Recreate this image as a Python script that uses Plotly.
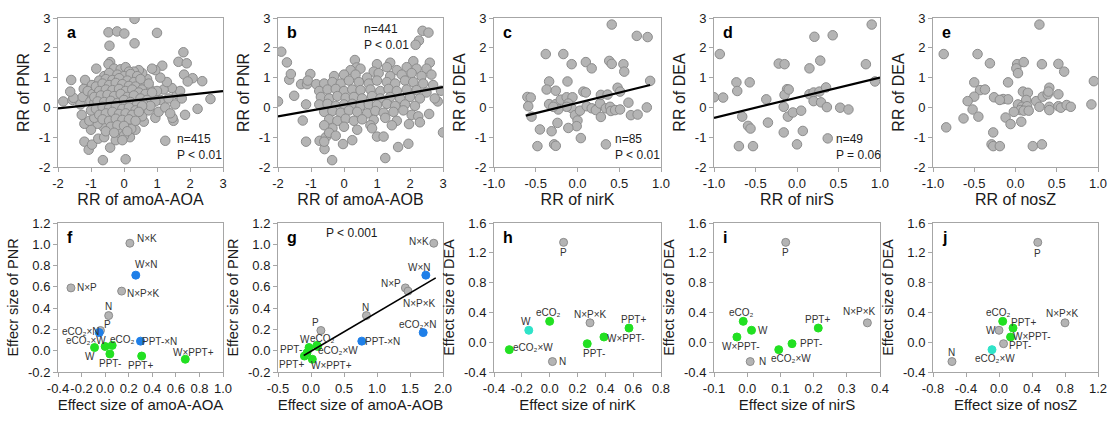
import plotly.graph_objects as go

# ---------------- DATA ----------------
# Panel a: RR of amoA-AOA vs RR of PNR
a_pts = [
    (0.32, 2.97), (-0.47, 2.52), (-0.21, 2.55), (0.01, 2.48), (1.0, 2.5), (-0.44, 2.07), (0.32, 2.15),
    (1.8, 1.85), (-0.42, 1.52), (-0.47, 1.45), (1.16, 1.4), (1.65, 1.53), (1.9, 1.48), (1.82, 1.1),
    (2.08, 0.98), (2.37, 0.88), (1.93, 0.87), (-1.6, 0.92), (-1.18, 0.92), (-0.84, 1.3), (-1.84, 0.2),
    (-1.56, 0.25), (-1.53, 0.32), (-1.63, 0.53), (-1.22, 0.62), (-0.97, 0.75), (2.62, 0.28), (2.23, -0.05),
    (1.85, -0.25), (1.5, -0.45), (1.47, -0.35), (1.25, -1.12), (-0.64, -1.77), (0.05, -1.74), (-1.2, -1.15),
    (-1.07, -1.42), (-0.97, -1.25), (-0.78, -1.05), (-0.6, -1.0), (-0.42, -1.35), (-0.25, -1.1),
    (-0.15, -0.85), (0.18, -1.0), (0.0, -0.95), (-0.05, -1.1), (0.35, -0.75), (0.22, -0.72), (0.6, -0.48),
    (-0.62, -0.65), (-0.8, -0.55), (-1.0, -0.75), (-1.2, -0.55), (-1.28, -0.25), (-1.05, -0.45),
    (-0.9, -0.35), (-1.32, 0.1), (-1.25, 0.35), (-1.1, 0.55), (-1.02, 0.2), (-0.9, 0.15), (-0.95, 0.45),
    (-1.0, -0.1), (0.55, -0.3), (0.75, -0.1), (0.95, -0.35), (1.05, -0.15), (1.1, 0.25), (1.25, 0.0),
    (1.35, 0.3), (1.4, -0.2), (1.55, 0.1), (1.6, 0.45), (1.7, 0.55), (1.75, 0.3), (1.45, 0.65), (1.2, 0.6),
    (1.3, 0.85), (1.1, 1.0), (0.95, 1.25), (0.85, 1.3), (0.7, 0.95), (0.55, 1.15), (0.45, 1.25), (0.3, 1.2),
    (0.25, 0.95), (0.6, 0.75), (0.8, 0.6), (0.9, 0.35), (1.0, 0.55),
    (-0.3, 1.3), (-0.1, 1.28), (0.05, 1.35), (0.15, 1.2),
    (-0.6, 1.05), (-0.45, 1.15), (-0.2, 1.1), (0.0, 1.05), (0.2, 1.12), (0.4, 1.05),
    (-0.75, 0.9), (-0.55, 0.95), (-0.35, 0.92), (-0.15, 0.98), (0.1, 0.9), (0.3, 0.85), (0.5, 0.95),
    (-0.85, 0.7), (-0.65, 0.8), (-0.45, 0.75), (-0.25, 0.82), (-0.05, 0.78), (0.15, 0.72), (0.35, 0.7),
    (0.55, 0.6), (0.75, 0.8),
    (-0.75, 0.55), (-0.55, 0.6), (-0.35, 0.58), (-0.15, 0.62), (0.05, 0.55), (0.25, 0.6), (0.45, 0.5),
    (0.65, 0.45), (0.85, 0.5),
    (-0.9, 0.35), (-0.7, 0.4), (-0.5, 0.42), (-0.3, 0.38), (-0.1, 0.45), (0.1, 0.35), (0.3, 0.4),
    (0.5, 0.3), (0.7, 0.25), (0.95, 0.2),
    (-0.8, 0.2), (-0.6, 0.18), (-0.4, 0.22), (-0.2, 0.15), (0.0, 0.25), (0.2, 0.18), (0.4, 0.12),
    (0.6, 0.1), (0.8, 0.05),
    (-0.85, -0.05), (-0.65, 0.02), (-0.45, -0.02), (-0.25, 0.05), (-0.05, -0.05), (0.15, 0.0),
    (0.35, -0.1), (0.55, 0.05),
    (-0.75, -0.25), (-0.55, -0.2), (-0.35, -0.15), (-0.15, -0.22), (0.05, -0.2), (0.25, -0.25),
    (0.45, -0.15),
    (-0.65, -0.4), (-0.45, -0.45), (-0.25, -0.38), (-0.05, -0.42), (0.15, -0.4), (0.35, -0.45),
    (-0.4, -0.65), (-0.2, -0.6), (0.0, -0.62), (-0.55, -0.8), (-0.3, -0.85), (0.1, -0.8),
]

# Panel b: RR of amoA-AOB vs RR of PNR
b_pts = [
    (2.38, 2.57), (2.56, 2.51), (2.27, 2.24), (2.17, 2.1), (-1.9, 1.87), (-1.73, 1.51), (-1.66, 0.93),
    (-1.61, 1.12), (-1.51, 0.39), (-2.0, 0.2), (-1.3, 0.78), (-1.12, 0.78), (-1.02, 1.12), (-1.1, 0.9),
    (-0.84, 0.78), (-1.15, 0.1), (-1.25, -0.44), (-1.15, -1.15), (-0.74, -1.12), (-0.59, -1.4),
    (-0.36, -1.77), (-0.03, -1.23), (0.25, -1.1), (1.0, -0.98), (1.2, -0.98), (1.25, -1.7), (1.64, -1.33),
    (1.95, -1.22), (3.0, -0.84), (1.97, -0.56), (2.58, -0.22), (2.84, 0.2), (2.94, 0.56), (0.33, 1.59),
    (0.38, 1.34), (2.1, 1.55), (2.6, 1.5), (1.4, 1.5), (1.0, 1.45), (2.75, 0.3),
    (0.2, 1.25), (0.5, 1.3), (0.9, 1.2), (1.3, 1.35), (1.6, 1.25), (1.9, 1.35), (2.2, 1.3), (2.5, 1.3),
    (-0.3, 1.05), (0.0, 1.1), (0.35, 1.1), (0.7, 1.0), (1.05, 1.15), (1.4, 1.05), (1.75, 1.1),
    (2.05, 1.15), (2.35, 1.05), (2.65, 1.1),
    (-0.6, 0.8), (-0.35, 0.85), (-0.1, 0.8), (0.15, 0.9), (0.45, 0.85), (0.75, 0.8), (1.0, 0.9),
    (1.3, 0.85), (1.55, 0.8), (1.85, 0.9), (2.1, 0.85), (2.4, 0.8), (2.7, 0.75),
    (-0.75, 0.55), (-0.5, 0.6), (-0.25, 0.62), (0.0, 0.55), (0.25, 0.6), (0.5, 0.58), (0.8, 0.6),
    (1.1, 0.55), (1.35, 0.62), (1.6, 0.55), (1.9, 0.6), (2.2, 0.58), (2.5, 0.5),
    (-0.7, 0.35), (-0.45, 0.3), (-0.2, 0.38), (0.05, 0.32), (0.3, 0.35), (0.55, 0.3), (0.85, 0.38),
    (1.1, 0.3), (1.4, 0.35), (1.7, 0.3), (2.0, 0.35), (2.3, 0.3),
    (-0.75, 0.1), (-0.5, 0.12), (-0.25, 0.05), (0.0, 0.1), (0.25, 0.12), (0.5, 0.05), (0.75, 0.1),
    (1.0, 0.08), (1.3, 0.12), (1.55, 0.05), (1.85, 0.1), (2.15, 0.05),
    (-0.6, -0.15), (-0.35, -0.12), (-0.1, -0.18), (0.15, -0.1), (0.4, -0.15), (0.7, -0.2), (0.95, -0.12),
    (1.2, -0.18), (1.5, -0.15), (1.8, -0.1), (2.05, -0.25),
    (-0.45, -0.4), (-0.2, -0.45), (0.05, -0.38), (0.3, -0.45), (0.55, -0.4), (0.9, -0.42), (1.25, -0.35),
    (1.6, -0.45), (2.25, -0.3),
    (-0.35, -0.7), (0.0, -0.65), (0.4, -0.75), (0.8, -0.6), (-0.6, -0.6),
    (-0.55, -1.0), (-0.45, -0.85), (-0.6, -1.15), (-0.25, -0.95), (0.85, -0.7), (1.45, -0.6), (2.3, -0.5),
]

# Panel c: RR of nirK vs RR of DEA
c_pts = [
    (0.87, 0.89), (0.41, 2.78), (0.71, 2.4), (0.84, 2.36), (-0.38, 1.79), (-0.17, 1.79), (-0.07, 1.45),
    (0.1, 1.52), (0.17, 1.31), (0.38, 1.56), (0.41, 1.46), (0.55, 1.45), (0.56, 1.2), (-0.34, 0.87),
    (-0.12, 0.87), (-0.37, 0.6), (-0.26, 0.56), (0.07, 0.53), (0.1, 0.5), (0.48, 0.66), (0.51, 0.53),
    (-0.6, 0.35), (-0.56, 0.33), (-0.59, 0.04), (-0.55, -0.31), (-0.34, 0.11), (-0.26, 0.11), (-0.2, 0.26),
    (-0.13, 0.34), (-0.06, 0.34), (-0.11, 0.13), (-0.07, -0.03), (-0.03, -0.26), (0.0, -0.44),
    (-0.01, -0.63), (-0.11, -0.69), (-0.31, -0.8), (-0.45, -0.74), (-0.48, -1.3), (-0.28, -1.24),
    (-0.26, -1.29), (0.04, -1.03), (-0.24, -0.52), (-0.13, 0.02), (0.03, -0.11), (0.11, 0.04),
    (0.17, -0.03), (0.22, -0.09), (0.27, 0.13), (0.28, 0.42), (0.36, 0.43), (0.28, -0.32), (0.34, -0.03),
    (0.39, 0.02), (0.4, -0.12), (0.45, -0.09), (0.51, -0.07), (0.61, 0.16), (0.64, -0.26), (0.72, -0.24),
    (0.83, 0.0), (0.34, -1.24), (-0.23, -0.07), (-0.29, 0.02),
]

# Panel d: RR of nirS vs RR of DEA
d_pts = [
    (0.9, 2.78), (0.21, 2.37), (0.43, 2.42), (-0.93, 1.79), (-0.22, 1.47), (-0.15, 1.45), (0.15, 1.31),
    (0.28, 1.57), (0.83, 1.45), (0.94, 0.87), (-0.73, 0.84), (-0.57, 0.84), (-0.72, 0.55), (-1.0, 0.34),
    (-0.89, 0.33), (-0.37, 0.27), (-0.12, 0.61), (-0.15, 0.42), (0.15, 0.44), (0.2, 0.5), (0.27, 0.53),
    (0.35, 0.67), (0.2, 0.21), (0.29, 0.17), (0.36, 0.01), (-0.16, 0.02), (-0.11, -0.31), (-0.05, -0.17),
    (0.05, -0.11), (-0.66, -0.31), (-0.59, -0.62), (-0.56, -0.71), (-0.35, -0.51), (-0.16, -0.84),
    (0.07, -0.79), (0.0, -1.24), (0.37, -1.04), (-0.7, -1.3), (-0.53, -1.3), (0.52, -0.01), (0.62, -0.07),
    (-0.1, 0.6),
]

# Panel e: RR of nosZ vs RR of DEA
e_pts = [
    (0.29, 2.78), (-0.87, 1.79), (-0.46, 1.79), (-0.31, 1.48), (0.02, 1.45), (0.1, 1.52), (0.32, 1.45),
    (0.52, 1.46), (0.59, 1.2), (0.01, 1.31), (0.03, 1.15), (0.95, 0.88), (-0.5, 0.84), (-0.09, 0.84),
    (-0.43, 0.58), (-0.37, 0.6), (-0.5, 0.36), (-0.58, 0.21), (-0.26, 0.34), (-0.15, 0.28), (-0.09, 0.27),
    (-0.19, 0.25), (0.09, 0.53), (0.15, 0.49), (0.13, 0.25), (0.03, 0.1), (0.08, 0.02), (0.14, 0.04),
    (0.06, -0.09), (0.1, -0.11), (0.16, -0.11), (-0.02, -0.15), (0.25, 0.21), (0.29, 0.02), (0.33, 0.36),
    (0.39, 0.44), (0.41, 0.66), (0.4, 0.53), (0.41, 0.02), (0.41, -0.09), (0.52, 0.44), (0.52, 0.04),
    (0.55, -0.01), (0.62, 0.08), (0.67, 0.02), (0.92, 0.1), (-0.52, -0.07), (-0.45, -0.31),
    (-0.63, -0.37), (-0.12, -0.34), (-0.06, -0.56), (0.07, -0.48), (-0.84, -0.67), (-0.27, -0.84),
    (-0.29, -1.24), (-0.27, -1.3), (-0.19, -1.3), (0.21, -1.3), (0.32, -1.24),
]

# Regression lines: (intercept, slope, x start, x end)
reg_a = (0.20, 0.116, -2.0, 3.0)
reg_b = (0.09, 0.196, -2.0, 3.0)
reg_c = (0.15, 0.69, -0.62, 0.87)
reg_d = (0.325, 0.675, -1.0, 1.0)
reg_g = (-0.005, 0.365, -0.11, 1.89)

# Bottom row: effect sizes by treatment
treat_pnr = ["N×K", "W×N", "N×P", "N×P×K", "N", "P", "eCO₂×N", "PPT-×N",
             "W", "eCO₂×W", "eCO₂", "PPT-", "PPT+", "W×PPT+"]
pnr = [1.01, 0.71, 0.59, 0.56, 0.33, 0.19, 0.17, 0.09, 0.03, 0.04, 0.05, -0.03, -0.05, -0.08]
es_aoa = [0.21, 0.26, -0.29, 0.14, 0.03, -0.04, -0.05, 0.30, -0.09, 0.00, 0.06, 0.04, 0.31, 0.68]
es_aob = [1.86, 1.74, 1.43, 1.47, 0.84, 0.15, 1.70, 0.77, -0.03, 0.10, 0.09, -0.06, -0.10, 0.02]
pnr_y_g = [1.01, 0.71, 0.59, 0.56, 0.33, 0.19, 0.17, 0.09, 0.03, 0.04, 0.05, -0.02, -0.05, -0.08]

treat_dea = ["P", "N×P×K", "eCO₂", "PPT+", "W", "W×PPT-", "PPT-", "eCO₂×W", "N"]
dea = [1.34, 0.26, 0.28, 0.19, 0.16, 0.07, -0.02, -0.10, -0.26]
es_nirk = [0.10, 0.29, 0.00, 0.57, -0.15, 0.39, 0.27, -0.29, 0.02]
es_nirs = [0.116, 0.362, -0.012, 0.214, 0.013, -0.031, 0.135, 0.095, 0.009]
es_nosz = [0.47, 0.80, 0.045, 0.17, 0.00, 0.14, 0.055, -0.085, -0.57]

# Tick values
ticks_rr2 = [-2, -1, 0, 1, 2, 3]
ticks_rr1 = [-1.0, -0.5, 0.0, 0.5, 1.0]
ticks_f_x = [-0.4, -0.2, 0.0, 0.2, 0.4, 0.6, 0.8, 1.0]
ticks_g_x = [-0.5, 0.0, 0.5, 1.0, 1.5, 2.0]
ticks_pnr = [-0.2, 0.0, 0.2, 0.4, 0.6, 0.8, 1.0, 1.2]
ticks_h_x = [-0.4, -0.2, 0.0, 0.2, 0.4, 0.6, 0.8]
ticks_i_x = [-0.1, 0.0, 0.1, 0.2, 0.3, 0.4]
ticks_j_x = [-0.8, -0.4, 0.0, 0.4, 0.8, 1.2]
ticks_dea = [-0.4, 0.0, 0.4, 0.8, 1.2, 1.6]

# ---------------- STYLE ----------------
FONT = "Arial, Liberation Sans, DejaVu Sans, sans-serif"
GF, GL = "#b4b4b4", "#8c8c8c"
BLUE, GREEN, CYAN = "#1f7fe8", "#22e022", "#2fe3c8"
col_pnr = [GF, BLUE, GF, GF, GF, GF, BLUE, BLUE, GREEN, GREEN, GREEN, GREEN, GREEN, GREEN]
col_h = [GF, GF, GREEN, GREEN, CYAN, GREEN, GREEN, GREEN, GF]
col_i = [GF, GF, GREEN, GREEN, GREEN, GREEN, GREEN, GREEN, GF]
col_j = [GF, GF, GREEN, GREEN, GF, GREEN, GF, CYAN, GF]

# label offsets (dx, dy) in px, dy positive = downward
off_f = [(17, -5), (11, -11), (16, 0), (22, 2), (0, -9), (7, -6), (-18, -1), (19, 0),
         (-5, 9), (-19, -6), (10, -6), (0, 10), (-1, 9), (8, -7)]
off_g = [(-15, -2), (-6, -8), (-14, -4), (11, 12), (-1, -8), (-5, -8), (-5, -8), (21, 0),
         (-4, -8), (20, 4), (6, -7), (-16, -3), (-13, 8), (19, 6)]
off_h = [(0, 10), (0, -8), (-1, -9), (5, -9), (-3, -9), (22, 2), (7, 10), (24, -2), (10, 0)]
off_i = [(0, 10), (-8, -11), (-2, -9), (-1, -9), (11, 0), (4, 10), (19, 0), (12, 9), (12, 0)]
off_j = [(0, 11), (-3, -9), (-4, -9), (10, -6), (-8, 0), (21, 0), (16, 2), (3, 9), (0, -9)]

W, H = 1115, 423
cols_px = [(58, 223), (278, 443), (494, 661), (714, 880), (933, 1098)]
top_px = (18, 167)
bot_px = (223, 372)


def dom_x(c):
    return [cols_px[c][0] / W, cols_px[c][1] / W]


def dom_y(r):
    p = top_px if r == 0 else bot_px
    return [1 - p[1] / H, 1 - p[0] / H]


def fmt(v, dec):
    return f"{v:.{dec}f}"


fig = go.Figure()

panels = [
    # letter, row, col, xrange, yrange, xticks, yticks, xdec, ydec, xtitle, ytitle
    ("a", 0, 0, [-2, 3], [-2, 3], ticks_rr2, ticks_rr2, 0, 0, "RR of amoA-AOA", "RR of PNR"),
    ("b", 0, 1, [-2, 3], [-2, 3], ticks_rr2, ticks_rr2, 0, 0, "RR of amoA-AOB", "RR of PNR"),
    ("c", 0, 2, [-1, 1], [-2, 3], ticks_rr1, ticks_rr2, 1, 0, "RR of nirK", "RR of DEA"),
    ("d", 0, 3, [-1, 1], [-2, 3], ticks_rr1, ticks_rr2, 1, 0, "RR of nirS", "RR of DEA"),
    ("e", 0, 4, [-1, 1], [-2, 3], ticks_rr1, ticks_rr2, 1, 0, "RR of nosZ", "RR of DEA"),
    ("f", 1, 0, [-0.4, 1.0], [-0.2, 1.2], ticks_f_x, ticks_pnr, 1, 1, "Effect size of amoA-AOA", "Effecr size of PNR"),
    ("g", 1, 1, [-0.5, 2.0], [-0.2, 1.2], ticks_g_x, ticks_pnr, 1, 1, "Effect size of amoA-AOB", "Effecr size of PNR"),
    ("h", 1, 2, [-0.4, 0.8], [-0.4, 1.6], ticks_h_x, ticks_dea, 1, 1, "Effect size of nirK", "Effect size of DEA"),
    ("i", 1, 3, [-0.1, 0.4], [-0.4, 1.6], ticks_i_x, ticks_dea, 1, 1, "Effect size of nirS", "Effect size of DEA"),
    ("j", 1, 4, [-0.8, 1.2], [-0.4, 1.6], ticks_j_x, ticks_dea, 1, 1, "Effect size of nosZ", "Effect size of DEA"),
]

annotations = []
axis_common = dict(showline=True, mirror=True, linecolor="#a6a6a6", linewidth=1,
                   ticks="outside", ticklen=4, tickcolor="#a6a6a6", showgrid=False,
                   zeroline=False, automargin=False,
                   tickfont=dict(family=FONT, size=13, color="#1a1a1a"))

for k, (letter, r, c, xr, yr, xt, yt, xd, yd, xtitle, ytitle) in enumerate(panels):
    n = k + 1
    xs = "" if n == 1 else str(n)
    tsize = 16 if r == 0 else 15
    ysize = 16 if r == 0 else 14.5
    fig.update_layout({
        f"xaxis{xs}": dict(axis_common, domain=dom_x(c), range=xr, anchor=f"y{xs}", tickangle=0,
                           tickvals=xt, ticktext=[fmt(v, xd) for v in xt],
                           title=dict(text=xtitle, standoff=3, font=dict(family=FONT, size=tsize, color="#1a1a1a"))),
        f"yaxis{xs}": dict(axis_common, domain=dom_y(r), range=yr, anchor=f"x{xs}",
                           tickvals=yt, ticktext=[fmt(v, yd) for v in yt],
                           title=dict(text=ytitle, standoff=5, font=dict(family=FONT, size=ysize, color="#1a1a1a"))),
    })
    annotations.append(dict(text=f"<b>{letter}</b>", xref=f"x{xs} domain", yref=f"y{xs} domain",
                            x=0.04, y=0.975, xanchor="left", yanchor="top", showarrow=False,
                            font=dict(family=FONT, size=16, color="#000")))

marker_top = dict(size=9.5, color=GF, line=dict(color=GL, width=1))


def add_cloud(pts, n):
    xs = "" if n == 1 else str(n)
    fig.add_trace(go.Scatter(x=[p[0] for p in pts], y=[p[1] for p in pts], mode="markers",
                             marker=marker_top, xaxis=f"x{xs}", yaxis=f"y{xs}", showlegend=False))


def add_reg(reg, n, width):
    xs = "" if n == 1 else str(n)
    a0, b1, x0, x1 = reg
    xx = [x0, x1]
    fig.add_trace(go.Scatter(x=xx, y=[a0 + b1 * v for v in xx], mode="lines",
                             line=dict(color="#000", width=width), xaxis=f"x{xs}", yaxis=f"y{xs}",
                             showlegend=False))


add_cloud(a_pts, 1); add_reg(reg_a, 1, 2.2)
add_cloud(b_pts, 2); add_reg(reg_b, 2, 2.2)
add_cloud(c_pts, 3); add_reg(reg_c, 3, 2.2)
add_cloud(d_pts, 4); add_reg(reg_d, 4, 2.2)
add_cloud(e_pts, 5)


def add_effect(xv, yv, names, colors, offs, n):
    xs = str(n)
    lines = [GL if col == GF else col for col in colors]
    fig.add_trace(go.Scatter(x=xv, y=yv, mode="markers",
                             marker=dict(size=8, color=colors, line=dict(color=lines, width=1)),
                             xaxis=f"x{xs}", yaxis=f"y{xs}", showlegend=False))
    for xi, yi, nm, (dx, dy) in zip(xv, yv, names, offs):
        annotations.append(dict(text=nm, x=xi, y=yi, xref=f"x{xs}", yref=f"y{xs}", showarrow=False,
                                xshift=dx, yshift=-dy, font=dict(family=FONT, size=10, color="#333")))


add_effect(es_aoa, pnr, treat_pnr, col_pnr, off_f, 6)
add_effect(es_aob, pnr_y_g, treat_pnr, col_pnr, off_g, 7)
add_reg(reg_g, 7, 1.6)
add_effect(es_nirk, dea, treat_dea, col_h, off_h, 8)
add_effect(es_nirs, dea, treat_dea, col_i, off_i, 9)
add_effect(es_nosz, dea, treat_dea, col_j, off_j, 10)

# statistics text
stat = [
    ("n=415<br>P &lt; 0.01", "", 0.71, 0.02, "bottom"),
    ("n=441<br>P &lt; 0.01", "2", 0.51, 0.985, "top"),
    ("n=85<br>P &lt; 0.01", "3", 0.71, 0.02, "bottom"),
    ("n=49<br>P = 0.06", "4", 0.72, 0.02, "bottom"),
]
for txt, xs, x, y, ya in stat:
    annotations.append(dict(text=txt, xref=f"x{xs} domain", yref=f"y{xs} domain", x=x, y=y,
                            xanchor="left", yanchor=ya, align="left", showarrow=False,
                            font=dict(family=FONT, size=12, color="#1a1a1a")))
annotations.append(dict(text="P &lt; 0.001", xref="x7 domain", yref="y7 domain", x=0.45, y=0.93,
                        xanchor="center", yanchor="middle", showarrow=False,
                        font=dict(family=FONT, size=12, color="#1a1a1a")))

fig.update_layout(width=W, height=H, autosize=False, margin=dict(l=0, r=0, t=0, b=0),
                  paper_bgcolor="white", plot_bgcolor="white", annotations=annotations,
                  font=dict(family=FONT, color="#1a1a1a"), hovermode=False)

fig.write_html("out.html", config={"displayModeBar": False, "staticPlot": True},
               post_script="document.body.style.margin='0';document.body.style.overflow='hidden';")
